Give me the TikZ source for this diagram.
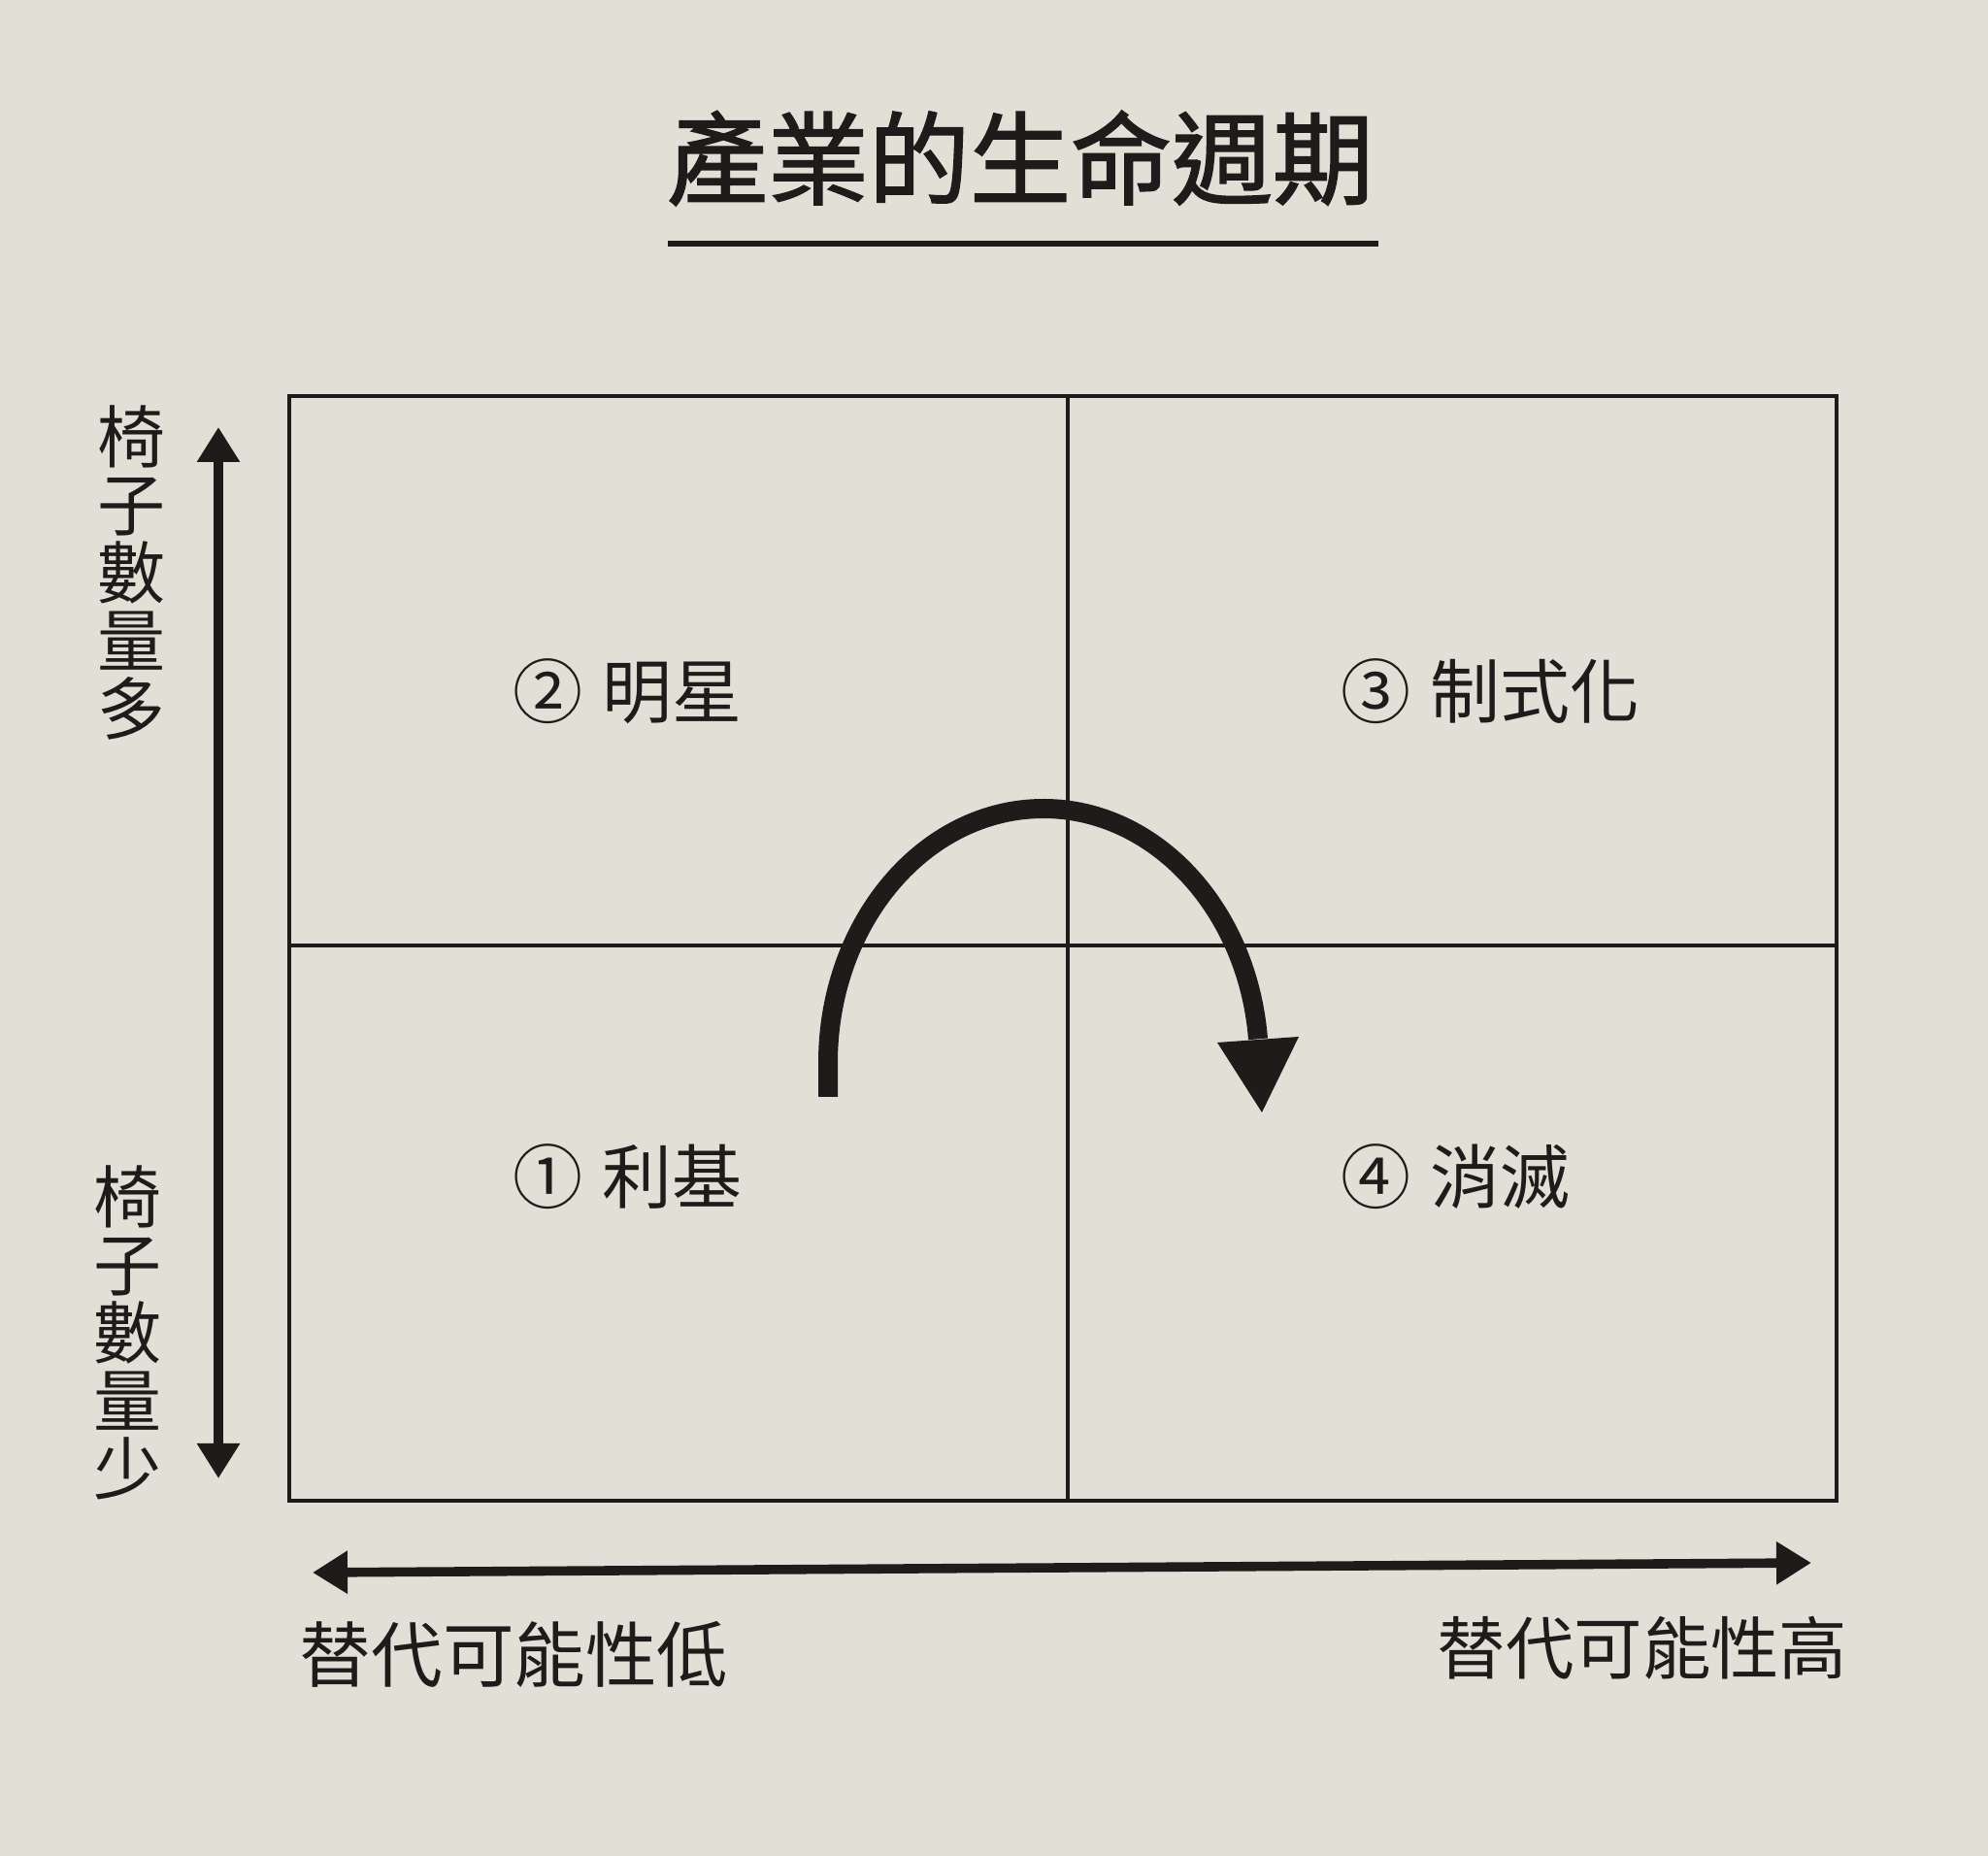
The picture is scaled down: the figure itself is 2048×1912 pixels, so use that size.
\documentclass[tikz,border=0pt]{standalone}
\usepackage{fontspec}
\setmainfont{Noto Sans CJK TC}
\newfontfamily\cjkbold{Noto Sans CJK TC}[FakeBold=1.6]
\usetikzlibrary{arrows.meta}
\definecolor{paper}{RGB}{226,223,215}
\definecolor{ink}{RGB}{30,27,26}
\tikzset{
  quadlabel/.style={anchor=west, inner sep=0pt, text=ink, font=\fontsize{18}{20}\selectfont},
  axislabel/.style={inner sep=0pt, text=ink, font=\fontsize{18.4}{20}\selectfont},
  vlabel/.style={inner sep=0pt, text=ink, align=center, font=\fontsize{17.5}{17.5}\selectfont},
  gridline/.style={draw=ink, line width=1pt},
  axisarrow/.style={draw=ink, line width=2.4pt, {Triangle[length=9pt,width=10.5pt]}-{Triangle[length=9pt,width=10.5pt]}},
}
\begin{document}
\begin{tikzpicture}[x=0.25pt,y=-0.25pt]
\fill[paper] (0,0) rectangle (2048,1912);
\useasboundingbox (0,0) rectangle (2048,1912);

% title
\node[inner sep=0pt, text=ink, font=\cjkbold\fontsize{26}{30}\selectfont] (title) at (1051,163) {產業的生命週期};
\coordinate (ulL) at (688,251);
\coordinate (ulR) at (1420,251);
\draw[ink, line width=1.6pt] (ulL) -- (ulR);

% quadrant frame
\coordinate (TL) at (298,408);
\coordinate (BR) at (1892,1546);
\coordinate (Vt) at (1100,408);
\coordinate (Vb) at (1100,1546);
\coordinate (Hl) at (298,974);
\coordinate (Hr) at (1892,974);
\draw[gridline] (TL) rectangle (BR);
\draw[gridline] (Vt) -- (Vb);
\draw[gridline] (Hl) -- (Hr);

% quadrant labels
\node[quadlabel] (q2) at (528,712) {②\hspace{5pt}明星};
\node[quadlabel] (q3) at (1381,712) {③\hspace{5pt}制式化};
\node[quadlabel] (q1) at (528,1212) {①\hspace{5pt}利基};
\node[quadlabel] (q4) at (1381,1212) {④\hspace{5pt}消滅};

% curved arrow
\coordinate (cs) at (853,1130);
\draw[ink, line width=5pt, line cap=butt] (cs) -- (853,1095) arc[start angle=180, end angle=354.6, x radius=222, y radius=262] coordinate (ce);
\fill[ink] (1254,1074) -- (1338,1068) -- (1300,1146) -- cycle;

% vertical axis
\coordinate (vTop) at (225,440);
\coordinate (vBot) at (225,1523);
\draw[axisarrow] (vBot) -- (vTop);
\node[vlabel] (vHigh) at (135,590) {椅\\子\\數\\量\\多};
\node[vlabel] (vLow) at (131,1373) {椅\\子\\數\\量\\少};

% horizontal axis
\coordinate (hL) at (322,1620);
\coordinate (hR) at (1866,1610);
\draw[axisarrow] (hL) -- (hR);
\node[axislabel, anchor=west] (hLow) at (308,1704) {替代可能性低};
\node[axislabel, anchor=east, font=\fontsize{17.6}{20}\selectfont] (hHigh) at (1904,1698) {替代可能性高};
\end{tikzpicture}
\end{document}
